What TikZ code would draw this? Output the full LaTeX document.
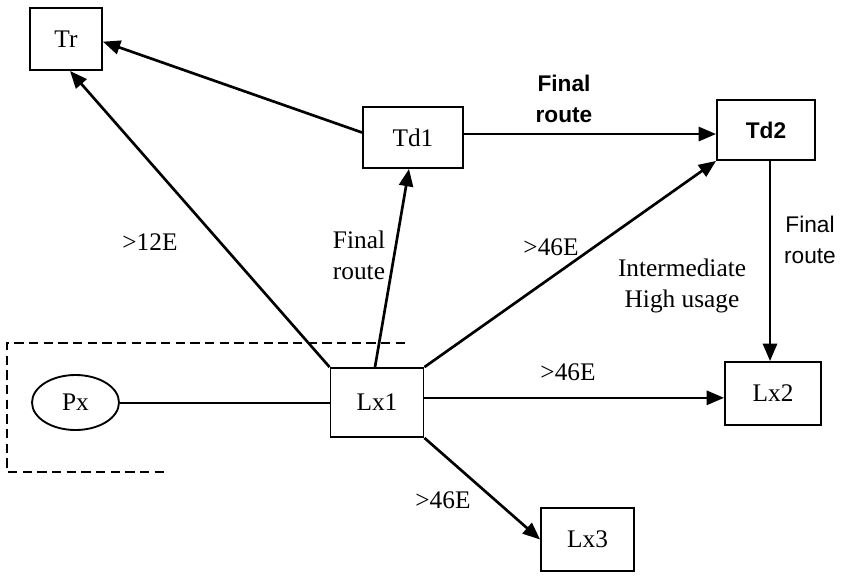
\documentclass[tikz,border=0pt]{standalone}
\usepackage{fontspec}
\setmainfont{Liberation Serif}
\setsansfont{Liberation Sans}
\usetikzlibrary{arrows.meta,shapes.geometric}
\begin{document}
\begin{tikzpicture}[x=0.75pt,y=-0.75pt,
  font=\fontsize{19}{23}\selectfont,
  box/.style={draw,line width=1.4pt,inner sep=0pt,align=center},
  conn/.style={line width=2pt},
  arr/.style={conn,-{Triangle[length=13pt,width=10.5pt]}},
  lbl/.style={align=center,inner sep=0pt},
  sanslbl/.style={lbl,font=\sffamily\fontsize{17}{23}\selectfont},
  sansbold/.style={lbl,font=\sffamily\bfseries\fontsize{17}{23}\selectfont}]
\useasboundingbox (0,0) rectangle (841,575);
% nodes
\node[box,minimum width=54pt,minimum height=46.5pt] (Tr) at (66,39) {Tr};
\node[box,minimum width=75pt,minimum height=45.75pt] (Td1) at (413,137.5) {Td1};
\node[box,minimum width=73.5pt,minimum height=45pt,font=\sffamily\bfseries\fontsize{17}{20}\selectfont] (Td2) at (766,130) {Td2};
\node[box,minimum width=69.75pt,minimum height=51.75pt] (Lx1) at (377,402.5) {Lx1};
\node[box,minimum width=72pt,minimum height=47.25pt] (Lx2) at (773,393.5) {Lx2};
\node[box,minimum width=69.75pt,minimum height=47.25pt] (Lx3) at (587.5,539.5) {Lx3};
\node[box,ellipse,minimum width=65.25pt,minimum height=41.25pt] (Px) at (75.5,402.5) {Px};
% dashed boundary
\coordinate (dA) at (405,343);
\coordinate (dB) at (7,343);
\coordinate (dC) at (7,472);
\coordinate (dD) at (167,472);
\draw[line width=1.2pt,dash pattern=on 7pt off 4pt] (dA) -- (dB) -- (dC) -- (dD);
% connectors
\draw[arr] ([yshift=3.75pt]Td1.west) -- ([yshift=-2pt]Tr.east);
\draw[arr] (Lx1.north west) -- ([xshift=3pt]Tr.south);
\draw[arr] ([xshift=-1.5pt]Lx1.north) -- ([xshift=-3pt]Td1.south);
\draw[arr] ([yshift=2.6pt]Td1.east) -- ([yshift=2.6pt]Td1.east -| Td2.west);
\draw[arr] (Lx1.north east) -- (Td2.south west);
\draw[arr] ([xshift=3pt]Td2.south) -- ([xshift=3pt]Td2.south |- Lx2.north);
\draw[arr] ([yshift=3.5pt]Lx1.east) -- ([yshift=3.5pt]Lx1.east -| Lx2.west);
\draw[line width=1.5pt] (Px.east) -- (Lx1.west);
\draw[arr] (Lx1.south east) -- (Lx3.west);
% labels
\node[lbl] (l12) at (150,242) {>12E};
\node[lbl] (lfr1) at (359,255) {Final\\route};
\node[lbl] (l46a) at (551,247) {>46E};
\node[sansbold] (lfr2) at (564,99) {Final\\route};
\node[lbl] (lint) at (682,286) {Intermediate\\High usage};
\node[sanslbl] (lfr3) at (810,240) {Final\\route};
\node[lbl] (l46b) at (568,372) {>46E};
\node[lbl] (l46c) at (443,500) {>46E};
\end{tikzpicture}
\end{document}
